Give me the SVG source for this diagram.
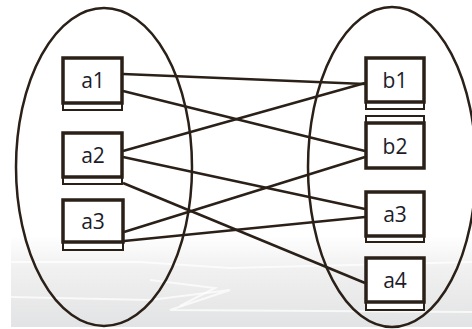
<svg xmlns="http://www.w3.org/2000/svg" width="472" height="329" viewBox="0 0 472 329">
<defs>
<linearGradient id="bg" x1="0" y1="0" x2="0" y2="1">
<stop offset="0" stop-color="#ffffff"/>
<stop offset="0.35" stop-color="#f1f1f1"/>
<stop offset="1" stop-color="#e2e3e4"/>
</linearGradient>
<style>
.ell{fill:none;stroke:#2a2018;stroke-width:2.5}
.box{fill:#ffffff;stroke:#2a2018;stroke-width:3.5}
.strip{fill:#ffffff;stroke:#2a2018;stroke-width:2}
.lbl{font-family:"Open Sans","Liberation Sans",sans-serif;font-size:21px;fill:#1c1c2a;text-anchor:middle}
.edge{stroke:#2a2018;stroke-width:2.5;fill:none}
.streak{fill:none;stroke:#ffffff;stroke-width:2;opacity:0.7}
</style>
</defs>
<rect width="472" height="329" fill="#ffffff"/>
<rect x="11" y="235" width="461" height="92" fill="url(#bg)"/>
<polyline class="streak" points="11,262 140,262 230,268 472,262"/>
<polyline class="streak" points="11,297 150,300 230,290 170,310 472,312"/>
<polyline class="streak" points="150,280 215,288 180,306"/>
<g id="setA"><ellipse class="ell" cx="104" cy="167" rx="88" ry="159"/></g>
<g id="setB"><ellipse class="ell" cx="392" cy="167" rx="84" ry="160"/></g>
<g id="connectors">
<line class="edge" x1="123" y1="74" x2="365" y2="84"/>
<line class="edge" x1="123" y1="91" x2="365" y2="151"/>
<line class="edge" x1="123" y1="151" x2="365" y2="83"/>
<line class="edge" x1="123" y1="157" x2="365" y2="209"/>
<line class="edge" x1="123" y1="183" x2="365" y2="283"/>
<line class="edge" x1="124" y1="232" x2="365" y2="157"/>
<line class="edge" x1="124" y1="241" x2="365" y2="217"/>
</g>
<g id="a1"><rect class="strip" x="63" y="103" width="59" height="7"/><rect class="box" x="63" y="58" width="59" height="45"/><text class="lbl" x="93" y="88">a1</text></g>
<g id="a2"><rect class="strip" x="63" y="177" width="59" height="7"/><rect class="box" x="63" y="133" width="59" height="44"/><text class="lbl" x="93" y="163">a2</text></g>
<g id="a3"><rect class="strip" x="63" y="242" width="60" height="8"/><rect class="box" x="63" y="200" width="60" height="42"/><text class="lbl" x="93" y="229">a3</text></g>
<g id="b1"><rect class="strip" x="366" y="102" width="58" height="7"/><rect class="box" x="366" y="58" width="58" height="44"/><text class="lbl" x="395" y="88">b1</text></g>
<g id="b2"><rect class="strip" x="366" y="116" width="58" height="7"/><rect class="box" x="366" y="123" width="58" height="45"/><text class="lbl" x="395" y="154">b2</text></g>
<g id="a3r"><rect class="strip" x="366" y="236" width="58" height="6"/><rect class="box" x="366" y="192" width="58" height="44"/><text class="lbl" x="395" y="222">a3</text></g>
<g id="a4"><rect class="strip" x="366" y="302" width="58" height="8"/><rect class="box" x="366" y="258" width="58" height="44"/><text class="lbl" x="395" y="288">a4</text></g>
</svg>
